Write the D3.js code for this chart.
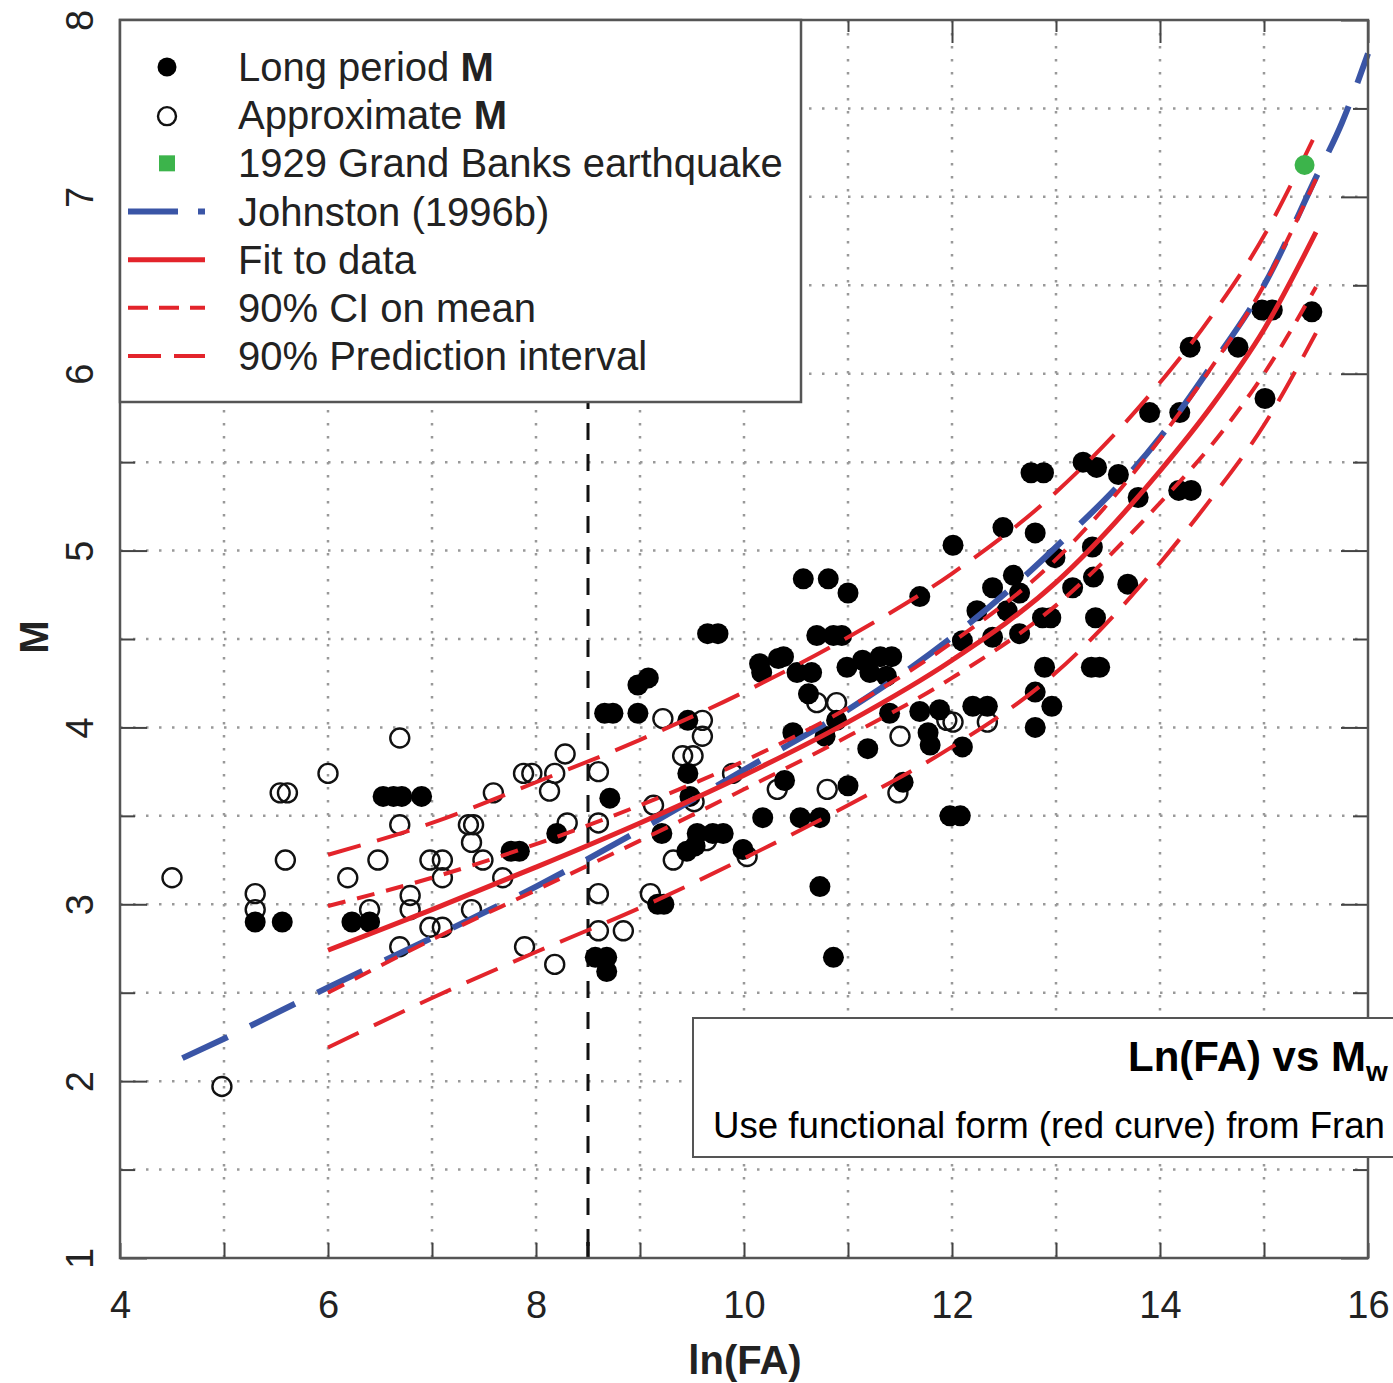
<!DOCTYPE html>
<html>
<head>
<meta charset="utf-8">
<script src="https://cdn.jsdelivr.net/npm/d3@7"></script>
<style>
  body { margin: 0; background: #fff; }
  svg { display: block; font-family: "Liberation Sans", Arial, Helvetica, sans-serif; }
</style>
</head>
<body>
<div id="chart"></div>
<script>
// values: x = ln(FA), M = magnitude

const longPeriod = [
  [5.30,2.90],[5.56,2.90],[6.23,2.90],[6.40,2.90],[6.53,3.61],[6.63,3.61],[6.71,3.61],[6.90,3.61],
  [7.76,3.30],[7.84,3.30],[8.20,3.40],[8.57,2.70],[8.68,2.70],[8.68,2.62],[8.71,3.60],[8.66,4.08],
  [8.74,4.08],[8.98,4.08],[8.98,4.24],[9.08,4.28],[9.17,3.00],[9.23,3.00],[9.21,3.40],[9.45,3.30],
  [9.53,3.33],[9.46,4.04],[9.46,3.74],[9.48,3.61],[9.55,3.40],[9.70,3.40],[9.80,3.40],[9.65,4.53],
  [9.75,4.53],[9.99,3.31],[10.15,4.36],[10.17,4.31],[10.18,3.49],[10.33,4.39],[10.38,4.40],[10.39,3.70],
  [10.47,3.97],[10.51,4.31],[10.54,3.49],[10.57,4.84],[10.62,4.19],[10.65,4.31],[10.70,4.52],[10.73,3.49],
  [10.73,3.10],[10.78,3.95],[10.81,4.84],[10.86,4.52],[10.86,2.70],[10.89,4.04],[10.94,4.52],[10.99,4.34],
  [11.00,4.76],[11.00,3.67],[11.14,4.38],[11.19,3.88],[11.21,4.31],[11.31,4.40],[11.37,4.29],[11.40,4.08],
  [11.42,4.40],[11.53,3.69],[11.69,4.09],[11.69,4.74],[11.77,3.97],[11.79,3.90],[11.88,4.10],[11.98,3.50],
  [12.08,3.50],[12.01,5.03],[12.10,3.89],[12.10,4.49],[12.20,4.12],[12.24,4.66],[12.34,4.12],[12.39,4.79],
  [12.39,4.51],[12.49,5.13],[12.53,4.66],[12.59,4.86],[12.65,4.53],[12.65,4.76],[12.76,5.44],[12.88,5.44],
  [12.80,5.10],[12.80,4.20],[12.80,4.00],[12.87,4.62],[12.95,4.62],[12.89,4.34],[12.96,4.12],[12.99,4.96],
  [13.16,4.79],[13.26,5.50],[13.35,5.02],[13.36,4.85],[13.38,4.62],[13.34,4.34],[13.42,4.34],[13.39,5.47],
  [13.60,5.43],[13.69,4.81],[13.79,5.30],[13.90,5.78],[14.19,5.78],[14.18,5.34],[14.30,5.34],[14.29,6.15],
  [14.75,6.15],[15.01,5.86],[14.98,6.36],[15.08,6.36],[15.46,6.35]
];

const approximate = [
  [4.50,3.15],[4.98,1.97],[5.30,3.06],[5.30,2.97],[5.54,3.63],[5.61,3.63],[5.59,3.25],[6.00,3.74],
  [6.19,3.15],[6.40,2.97],[6.48,3.25],[6.69,3.94],[6.69,3.45],[6.69,2.76],[6.79,3.05],[6.79,2.97],
  [6.98,3.25],[7.10,3.25],[7.10,3.15],[6.98,2.87],[7.10,2.87],[7.35,3.45],[7.40,3.45],[7.38,3.35],
  [7.49,3.25],[7.38,2.97],[7.59,3.63],[7.68,3.15],[7.89,2.76],[7.88,3.74],[7.96,3.74],[8.13,3.64],
  [8.18,3.74],[8.18,2.66],[8.28,3.85],[8.30,3.46],[8.60,3.75],[8.60,3.46],[8.60,3.06],[8.60,2.85],
  [8.84,2.85],[9.10,3.06],[9.13,3.56],[9.22,4.05],[9.32,3.25],[9.41,3.84],[9.51,3.84],[9.60,4.04],
  [9.60,3.95],[9.52,3.58],[9.64,3.36],[9.89,3.74],[10.03,3.27],[10.32,3.65],[10.70,4.14],[10.89,4.14],
  [10.80,3.65],[11.50,3.95],[11.48,3.63],[11.95,4.04],[12.01,4.03],[12.34,4.03]
];

const grandBanks = [[15.39, 7.18]];

const johnstonX = [4.6, 5, 6, 7, 8, 9, 10, 11, 12, 13, 14, 14.5, 15, 15.5, 15.75, 16];
const johnstonM = [2.13, 2.24, 2.53, 2.81, 3.10, 3.42, 3.76, 4.10, 4.51, 5.02, 5.64, 6.05, 6.50, 7.11, 7.42, 7.81];

const fitX    = [6, 7, 8, 9, 10, 11, 12, 13, 14, 14.5, 15, 15.5];
const fitM    = [2.74, 2.97, 3.21, 3.46, 3.73, 4.03, 4.38, 4.82, 5.45, 5.82, 6.25, 6.80];
const ciUpper = [2.99, 3.15, 3.34, 3.56, 3.81, 4.11, 4.48, 4.95, 5.63, 6.04, 6.50, 7.10];
const ciLower = [2.50, 2.80, 3.08, 3.36, 3.65, 3.95, 4.28, 4.69, 5.27, 5.60, 6.00, 6.49];
const piUpper = [3.28, 3.46, 3.69, 3.93, 4.20, 4.51, 4.87, 5.33, 5.95, 6.33, 6.78, 7.36];
const piLower = [2.19, 2.47, 2.73, 2.98, 3.26, 3.56, 3.89, 4.31, 4.93, 5.30, 5.71, 6.23];

const xTicks = [4, 5, 6, 7, 8, 9, 10, 11, 12, 13, 14, 15, 16];
const yMajor = [1, 2, 3, 4, 5, 6, 7, 8];
const yMinor = [1.5, 2.5, 3.5, 4.5, 5.5, 6.5, 7.5];
const xGrid = [5, 6, 7, 8, 9, 10, 11, 12, 13, 14, 15];
const yGrid = [1.5, 2, 2.5, 3, 3.5, 4, 4.5, 5, 5.5, 6, 6.5, 7, 7.5];
const cutoffX = 8.5;

const legendItems = [
  { label: 'Long period ', bold: 'M', kind: 'filled' },
  { label: 'Approximate ', bold: 'M', kind: 'open' },
  { label: '1929 Grand Banks earthquake', kind: 'square' },
  { label: 'Johnston (1996b)', kind: 'johnston' },
  { label: 'Fit to data', kind: 'fit' },
  { label: '90% CI on mean', kind: 'ci' },
  { label: '90% Prediction interval', kind: 'pi' }
];

const RED = '#e3242b', BLUE = '#3a55a6', GREEN = '#3cb44b', FRAME = '#555';

const svg = d3.select('#chart').append('svg')
  .attr('width', 1393).attr('height', 1383);

const x = d3.scaleLinear().domain([4, 16]).range([120, 1368]);
const y = d3.scaleLinear().domain([1, 8]).range([1258, 20]);

// dotted grid
svg.append('g').selectAll('line').data(xGrid).join('line')
  .attr('x1', d => x(d)).attr('x2', d => x(d)).attr('y1', y(8)).attr('y2', y(1))
  .attr('stroke', '#999').attr('stroke-width', 2.5).attr('stroke-dasharray', '2.5,10.5');
svg.append('g').selectAll('line').data(yGrid).join('line')
  .attr('y1', d => y(d)).attr('y2', d => y(d)).attr('x1', x(4)).attr('x2', x(16))
  .attr('stroke', '#999').attr('stroke-width', 2.5).attr('stroke-dasharray', '2.5,10.5');

// vertical cut-off line
svg.append('line')
  .attr('x1', x(cutoffX)).attr('x2', x(cutoffX)).attr('y1', y(8)).attr('y2', y(1))
  .attr('stroke', '#111').attr('stroke-width', 3).attr('stroke-dasharray', '17,14');

// points
svg.append('g').selectAll('circle').data(approximate).join('circle')
  .attr('cx', d => x(d[0])).attr('cy', d => y(d[1])).attr('r', 9.5)
  .attr('fill', 'none').attr('stroke', '#111').attr('stroke-width', 2.4);
svg.append('g').selectAll('circle').data(longPeriod).join('circle')
  .attr('cx', d => x(d[0])).attr('cy', d => y(d[1])).attr('r', 10.5)
  .attr('fill', '#000');

// curves
const line = d3.line().x(d => x(d[0])).y(d => y(d[1])).curve(d3.curveMonotoneX);
const zipXY = (xs, ys) => xs.map((v, i) => [v, ys[i]]);

svg.append('path').datum(zipXY(johnstonX, johnstonM)).attr('d', line)
  .attr('fill', 'none').attr('stroke', BLUE).attr('stroke-width', 6).attr('stroke-dasharray', '50,25');
svg.append('path').datum(zipXY(fitX, fitM)).attr('d', line)
  .attr('fill', 'none').attr('stroke', RED).attr('stroke-width', 5);
[ciUpper, ciLower].forEach(arr => {
  svg.append('path').datum(zipXY(fitX, arr)).attr('d', line)
    .attr('fill', 'none').attr('stroke', RED).attr('stroke-width', 4).attr('stroke-dasharray', '18,12');
});
[piUpper, piLower].forEach(arr => {
  svg.append('path').datum(zipXY(fitX, arr)).attr('d', line)
    .attr('fill', 'none').attr('stroke', RED).attr('stroke-width', 4).attr('stroke-dasharray', '34,17');
});

svg.append('g').selectAll('circle').data(grandBanks).join('circle')
  .attr('cx', d => x(d[0])).attr('cy', d => y(d[1])).attr('r', 10)
  .attr('fill', GREEN);

// axes (ticks point inward)
function styleAxis(g) {
  g.select('.domain').remove();
  g.selectAll('line').attr('stroke', '#444').attr('stroke-width', 2);
  g.attr('font-family', null).attr('font-size', null);
  g.selectAll('text').attr('fill', '#222').attr('font-size', 38);
}

const xb = svg.append('g').attr('transform', `translate(0,${y(1)})`)
  .call(d3.axisBottom(x).tickValues(xTicks).tickSize(-15).tickPadding(33)
    .tickFormat(d => d % 2 === 0 ? d : ''));
styleAxis(xb);
xb.append('line').attr('x1', x(cutoffX)).attr('x2', x(cutoffX)).attr('y1', 0).attr('y2', -16)
  .attr('stroke', '#111').attr('stroke-width', 3.5);

const xt = svg.append('g').attr('transform', `translate(0,${y(8)})`)
  .call(d3.axisTop(x).tickValues(xTicks.filter(d => d % 2 === 0)).tickSize(-23).tickFormat(''));
styleAxis(xt);
const xt2 = svg.append('g').attr('transform', `translate(0,${y(8)})`)
  .call(d3.axisTop(x).tickValues(xTicks.filter(d => d % 2 === 1)).tickSize(-12).tickFormat(''));
styleAxis(xt2);

const yl = svg.append('g').attr('transform', `translate(${x(4)},0)`)
  .call(d3.axisLeft(y).tickValues(yMajor).tickSize(-27).tickFormat(d3.format('d')));
styleAxis(yl);
yl.selectAll('text').attr('x', null).attr('dy', null).attr('text-anchor', 'middle')
  .attr('transform', 'translate(-27,0) rotate(-90)');
const yl2 = svg.append('g').attr('transform', `translate(${x(4)},0)`)
  .call(d3.axisLeft(y).tickValues(yMinor).tickSize(-15).tickFormat(''));
styleAxis(yl2);

const yr = svg.append('g').attr('transform', `translate(${x(16)},0)`)
  .call(d3.axisRight(y).tickValues(yMajor).tickSize(-27).tickFormat(''));
styleAxis(yr);
const yr2 = svg.append('g').attr('transform', `translate(${x(16)},0)`)
  .call(d3.axisRight(y).tickValues(yMinor).tickSize(-15).tickFormat(''));
styleAxis(yr2);

// plot frame
svg.append('rect')
  .attr('x', x(4)).attr('y', y(8)).attr('width', x(16) - x(4)).attr('height', y(1) - y(8))
  .attr('fill', 'none').attr('stroke', FRAME).attr('stroke-width', 2.5);

// axis titles
svg.append('text').attr('x', 745).attr('y', 1374).attr('text-anchor', 'middle')
  .attr('font-size', 40).attr('font-weight', 'bold').attr('fill', '#222').text('ln(FA)');
svg.append('text').attr('transform', 'translate(48,637) rotate(-90)').attr('text-anchor', 'middle')
  .attr('font-size', 40).attr('font-weight', 'bold').attr('fill', '#222').text('M');

// legend
const lg = svg.append('g');
lg.append('rect').attr('x', 120).attr('y', 20).attr('width', 681).attr('height', 382)
  .attr('fill', '#fff').attr('stroke', FRAME).attr('stroke-width', 2.5);
const rowY = d3.scalePoint().domain(d3.range(legendItems.length)).range([67, 356]);
legendItems.forEach((it, i) => {
  const cy = rowY(i);
  if (it.kind === 'filled') lg.append('circle').attr('cx', 167).attr('cy', cy).attr('r', 9.5).attr('fill', '#000');
  if (it.kind === 'open') lg.append('circle').attr('cx', 167).attr('cy', cy + 1).attr('r', 9)
    .attr('fill', 'none').attr('stroke', '#111').attr('stroke-width', 2.4);
  if (it.kind === 'square') lg.append('rect').attr('x', 159).attr('y', cy - 8).attr('width', 16).attr('height', 16).attr('fill', GREEN);
  const seg = () => lg.append('line').attr('x1', 128).attr('x2', 205).attr('y1', cy).attr('y2', cy).attr('fill', 'none');
  if (it.kind === 'johnston') seg().attr('stroke', BLUE).attr('stroke-width', 6).attr('stroke-dasharray', '50,20');
  if (it.kind === 'fit') seg().attr('stroke', RED).attr('stroke-width', 5);
  if (it.kind === 'ci') seg().attr('stroke', RED).attr('stroke-width', 4).attr('stroke-dasharray', '20,11');
  if (it.kind === 'pi') seg().attr('stroke', RED).attr('stroke-width', 4).attr('stroke-dasharray', '33,13');
  const t = lg.append('text').attr('x', 238).attr('y', cy + 14).attr('font-size', 40).attr('fill', '#222');
  t.append('tspan').text(it.label);
  if (it.bold) t.append('tspan').attr('font-weight', 'bold').text(it.bold);
});

// annotation box (runs off the right edge)
const ab = svg.append('g');
ab.append('rect').attr('x', 693).attr('y', 1018).attr('width', 760).attr('height', 139)
  .attr('fill', '#fff').attr('stroke', FRAME).attr('stroke-width', 2);
const tt = ab.append('text').attr('x', 1128).attr('y', 1071).attr('font-size', 42)
  .attr('font-weight', 'bold').attr('fill', '#000');
tt.append('tspan').text('Ln(FA) vs M');
tt.append('tspan').attr('font-size', 28).attr('dy', 10).text('w');
ab.append('text').attr('x', 713).attr('y', 1138).attr('font-size', 37).attr('fill', '#000')
  .attr('textLength', 672).attr('lengthAdjust', 'spacingAndGlyphs')
  .text('Use functional form (red curve) from Fran');
</script>
</body>
</html>
